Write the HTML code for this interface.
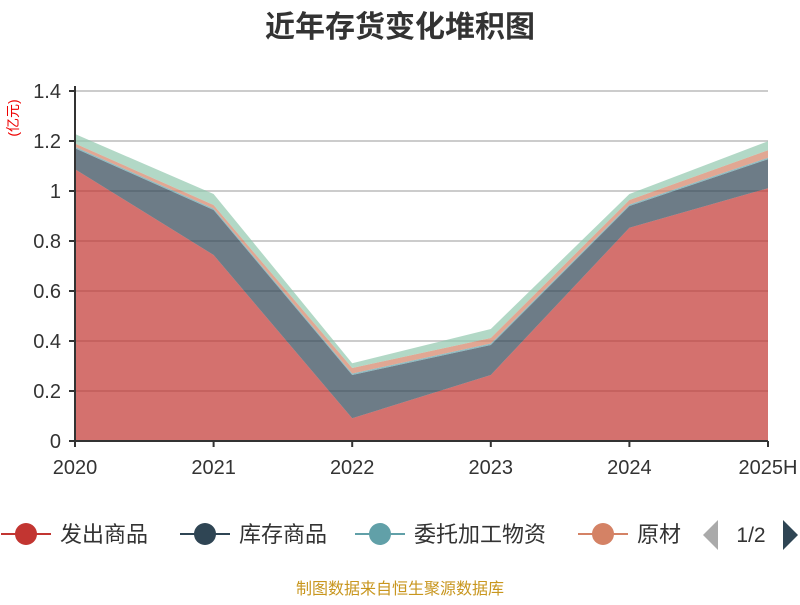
<!DOCTYPE html>
<html><head><meta charset="utf-8"><style>
body{margin:0;background:#fff;}
svg text{font-family:"Liberation Sans","Noto Sans CJK SC",sans-serif;}
</style></head><body>
<svg id="chart" width="800" height="600" xmlns="http://www.w3.org/2000/svg">
<text x="400" y="37" text-anchor="middle" font-size="30" font-weight="bold" fill="#333">近年存货变化堆积图</text>
<text transform="translate(18,118) rotate(-90)" text-anchor="middle" font-size="14" fill="#e00">(亿元)</text>
<g id="grid"></g>
<g id="areas"></g>
<g id="axes"></g>
<g id="legend"></g>
<text x="400" y="594" text-anchor="middle" font-size="16" fill="#c8961e">制图数据来自恒生聚源数据库</text>
</svg>
<script>
const categories=["2020","2021","2022","2023","2024","2025H"];
const seriesNames=["发出商品","库存商品","委托加工物资","原材料","其他"];
const shippedGoods=[1.087,0.744,0.091,0.264,0.853,1.011];
const finishedGoods=[0.084,0.180,0.173,0.120,0.087,0.116];
const processingMaterials=[0.006,0.006,0.006,0.006,0.006,0.006];
const rawMaterials=[0.013,0.014,0.022,0.022,0.018,0.030];
const otherItems=[0.038,0.044,0.019,0.036,0.024,0.036];
const yTicks=[0,0.2,0.4,0.6,0.8,1,1.2,1.4];
const colors=["#c23531","#2f4554","#61a0a8","#d48265","#91c7ae"];
const NS="http://www.w3.org/2000/svg";
const x0=75,x1=768,yBase=441,yTop=91,yMax=1.4;
const xs=i=>x0+(x1-x0)*i/(categories.length-1);
const ys=v=>yBase-(yBase-yTop)*v/yMax;
function mk(t,a,p){const e=document.createElementNS(NS,t);for(const k in a)e.setAttribute(k,a[k]);p.appendChild(e);return e;}
const grid=document.getElementById('grid');
yTicks.forEach(v=>{
 if(v>0){const l=mk('line',{x1:x0,x2:x1,y1:ys(v),y2:ys(v),stroke:'#ccc','stroke-width':2},grid);
 
 }
});
const all=[shippedGoods,finishedGoods,processingMaterials,rawMaterials,otherItems];
const areas=document.getElementById('areas');
let cum=categories.map(()=>0);
all.forEach((s,si)=>{
 const top=cum.map((c,i)=>c+s[i]);
 let d='M'+categories.map((c,i)=>xs(i)+','+ys(top[i])).join(' L');
 for(let i=categories.length-1;i>=0;i--)d+=' L'+xs(i)+','+ys(cum[i]);
 const p=mk('path',{d:d+'Z',fill:colors[si],'fill-opacity':0.7},areas);
 
 
 cum=top;
});
const axes=document.getElementById('axes');
const ya=mk('line',{x1:x0,x2:x0,y1:yTop-5,y2:yBase,stroke:'#333','stroke-width':2},axes);


const xa=mk('line',{x1:x0,x2:x1,y1:yBase,y2:yBase,stroke:'#333','stroke-width':2},axes);


yTicks.forEach(v=>{
 mk('line',{x1:x0-6,x2:x0,y1:ys(v),y2:ys(v),stroke:'#333','stroke-width':2},axes);
 const t=mk('text',{x:x0-14,y:ys(v)+7,'text-anchor':'end','font-size':20,fill:'#333'},axes);
 t.textContent=String(v);
 
 
});
categories.forEach((c,i)=>{
 mk('line',{x1:xs(i),x2:xs(i),y1:yBase,y2:yBase+6,stroke:'#333','stroke-width':2},axes);
 const t=mk('text',{x:xs(i),y:474,'text-anchor':'middle','font-size':20,fill:'#333'},axes);
 t.textContent=c;
 
 
});
const lg=document.getElementById('legend');
const lx=[26,205,380,603];
[0,1,2,3].forEach(i=>{
 const g=mk('g',{},lg);
 
 
 mk('line',{x1:lx[i]-25,x2:lx[i]+25,y1:534,y2:534,stroke:colors[i],'stroke-width':2},g);
 mk('circle',{cx:lx[i],cy:534,r:11,fill:colors[i]},g);
 const t=mk('text',{x:lx[i]+34,y:542,'font-size':22,fill:'#333'},g);
 t.textContent=i===3?'原材':seriesNames[i];
});
const prev=mk('polygon',{points:'703,535 718,520 718,550',fill:'#aaa'},lg);


const pg=mk('text',{x:751,y:542,'text-anchor':'middle','font-size':21,fill:'#333'},lg);
pg.textContent='1/2';


const next=mk('polygon',{points:'783,520 798,535 783,550',fill:'#2f4554'},lg);


</script>
</body></html>
